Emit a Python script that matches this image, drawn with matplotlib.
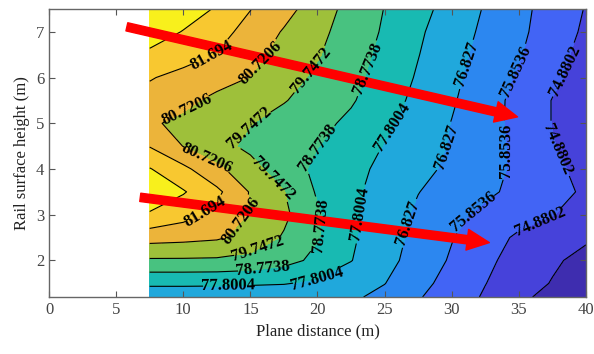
import matplotlib
matplotlib.use("Agg")
import matplotlib.pyplot as plt
import numpy as np

plt.rcParams['font.family'] = ['Liberation Serif', 'DejaVu Serif']

# grid (x = plane distance, y = rail surface height)
x_dist = [7.5, 10, 12.5, 15, 17.5, 20, 22.5, 25, 27.5, 30, 32.5, 35, 37.5, 40]
y_height = [1.2, 1.5, 2.0, 2.5, 3.0, 3.5, 4.0, 4.5, 5.0, 5.5, 6.0, 6.5, 7.0, 7.5]

# one row per height, bottom to top
z_y12 = [77.20, 77.20, 77.20, 77.15, 77.10, 77.05, 76.98, 76.57, 75.93, 75.35, 74.78, 74.12, 73.60, 73.10]
z_y15 = [77.97, 77.97, 77.95, 77.92, 77.86, 77.62, 77.23, 76.85, 76.15, 75.50, 74.90, 74.37, 73.85, 73.35]
z_y20 = [79.62, 79.62, 79.60, 79.45, 79.10, 78.54, 77.83, 77.13, 76.44, 75.74, 75.07, 74.54, 74.06, 73.60]
z_y25 = [81.10, 81.00, 80.85, 80.38, 79.65, 78.84, 77.94, 77.23, 76.57, 75.90, 75.31, 74.72, 74.35, 74.05]
z_y30 = [82.58, 82.04, 81.42, 80.66, 79.95, 78.88, 77.97, 77.29, 76.67, 76.09, 75.63, 75.27, 74.91, 74.50]
z_y35 = [83.20, 82.75, 81.91, 80.65, 79.78, 78.67, 78.01, 77.41, 76.85, 76.43, 76.03, 75.61, 75.17, 74.75]
z_y40 = [82.72, 81.93, 80.94, 80.08, 79.25, 78.56, 78.07, 77.59, 77.10, 76.63, 76.17, 75.67, 75.12, 74.55]
z_y45 = [81.65, 80.70, 80.05, 79.54, 79.18, 78.80, 78.29, 77.76, 77.25, 76.75, 76.22, 75.63, 74.95, 74.27]
z_y50 = [80.85, 80.50, 80.14, 79.78, 79.41, 79.03, 78.58, 77.97, 77.39, 76.80, 76.22, 75.57, 74.85, 74.15]
z_y55 = [81.35, 80.95, 80.50, 80.15, 79.80, 79.35, 78.87, 78.22, 77.55, 76.93, 76.26, 75.57, 74.85, 74.16]
z_y60 = [81.76, 81.41, 81.07, 80.70, 80.13, 79.56, 79.03, 78.40, 77.70, 77.04, 76.38, 75.73, 75.09, 74.45]
z_y65 = [82.46, 82.07, 81.66, 81.01, 80.40, 79.82, 79.19, 78.52, 77.83, 77.15, 76.52, 75.93, 75.24, 74.55]
z_y70 = [83.20, 82.62, 82.03, 81.37, 80.64, 79.99, 79.33, 78.66, 77.94, 77.28, 76.64, 76.05, 75.39, 74.72]
z_y75 = [83.50, 83.20, 82.57, 81.72, 81.05, 80.24, 79.42, 78.75, 78.11, 77.44, 76.75, 76.11, 75.47, 74.83]

levels = [73.9068, 74.8802, 75.8536, 76.827, 77.8004, 78.7738, 79.7472, 80.7206, 81.694, 82.6674]

band_colors = ['#3e2daf', '#4642da', '#4264f5', '#2c87f0', '#20a8dc', '#18bab2',
               '#48c280', '#9ec03a', '#ecb43a', '#f8c830', '#f8f01c']

# where the contour labels sit
label_pos = [(12.1, 6.5), (15.9, 6.28), (19.7, 6.1), (23.7, 6.2), (25.6, 4.9),
             (31.0, 6.3), (34.3, 6.23), (38.3, 6.17), (10.1, 5.4), (14.8, 4.96),
             (20.2, 4.41), (29.6, 4.48), (34.2, 4.41), (37.8, 4.41), (11.8, 4.26),
             (16.6, 3.75), (11.8, 2.99), (14.2, 2.92), (20.2, 2.77), (23.0, 3.03),
             (26.7, 2.83), (31.3, 3.25), (36.6, 2.83), (15.6, 2.22), (15.9, 1.82),
             (13.3, 1.45), (20.0, 1.56)]

# red trend arrows (tail, tip)
arrows = [((5.8, 7.11), (34.9, 5.14)), ((6.8, 3.38), (32.8, 2.39))]

Z = np.array([z_y12, z_y15, z_y20, z_y25, z_y30, z_y35, z_y40,
              z_y45, z_y50, z_y55, z_y60, z_y65, z_y70, z_y75])
X, Y = np.meshgrid(x_dist, y_height)

fig = plt.figure(figsize=(5.94, 3.54), dpi=100)
ax = fig.add_axes([0.0825, 0.161, 0.904, 0.8136])

ax.contourf(X, Y, Z, levels=levels, colors=band_colors, extend='both')
cs = ax.contour(X, Y, Z, levels=levels, colors='k', linewidths=0.8)
texts = ax.clabel(cs, manual=label_pos, inline=True, fmt='%g', fontsize=12, inline_spacing=3)
for t in texts:
    t.set_fontweight('bold')

for tail, tip in arrows:
    ax.annotate('', xy=tip, xytext=tail,
                arrowprops=dict(arrowstyle='simple,head_length=1.6,head_width=1.5,tail_width=0.6',
                                color='#ff0000', mutation_scale=10, shrinkA=0, shrinkB=0))

ax.set_xlim(0, 40)
ax.set_ylim(1.2, 7.5)
ax.set_xticks(range(0, 41, 5))
ax.set_yticks(range(2, 8))
ax.tick_params(direction='in', top=True, right=True, labelsize=12, length=4,
               color='#555555', labelcolor='#444444')
for s in ax.spines.values():
    s.set_color('#666666')
    s.set_linewidth(1.0)

ax.set_xlabel('Plane distance (m)', fontsize=12, color='#222222')
ax.set_ylabel('Rail surface height (m)', fontsize=12, color='#222222')

fig.savefig('out.png', dpi=100)
